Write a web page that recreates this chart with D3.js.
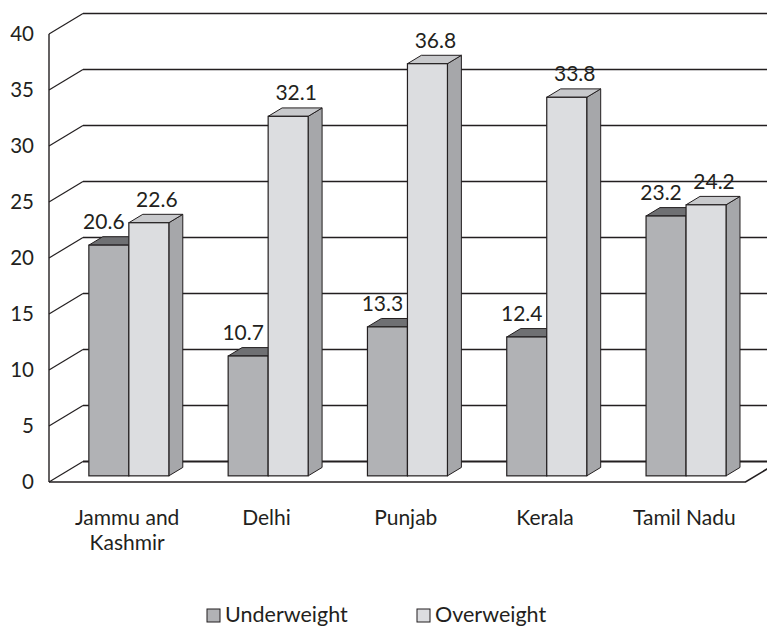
<!DOCTYPE html>
<html>
<head>
<meta charset="utf-8">
<script src="https://cdn.jsdelivr.net/npm/d3@7"></script>
<style>
  body { margin: 0; background: #fff; }
  svg text { font-family: Lato, "Open Sans", sans-serif; fill: #231f20; }
</style>
</head>
<body>
<div id="chart"></div>
<script>
// data
var categories = ["Jammu and Kashmir", "Delhi", "Punjab", "Kerala", "Tamil Nadu"];
var seriesNames = ["Underweight", "Overweight"];
var underweight = [20.6, 10.7, 13.3, 12.4, 23.2];
var overweight = [22.6, 32.1, 36.8, 33.8, 24.2];
var yTicks = [0, 5, 10, 15, 20, 25, 30, 35, 40];

var width = 767;
var height = 626;

// depth of the 3d box
var depthX = 34;
var depthY = 20.5;
var barD0 = 0.3;
var barD1 = 0.71;

var colors = {
  Underweight: { front: "#b1b2b5", top: "#6f7073", side: "#a6a7aa" },
  Overweight: { front: "#dcdde0", top: "#c8c9cc", side: "#a6a7aa" }
};

var svg = d3.select("#chart")
  .append("svg")
  .attr("width", width)
  .attr("height", height);

var yScale = d3.scaleLinear().domain([0, 40]).range([482, 34]);
var xScale = d3.scaleBand().domain(categories).range([49, 745.5]).padding(0);
var inner = d3.scaleBand().domain(seriesNames).range([-40, 40]);

function px(x, d) { return x + d * depthX; }
function py(v, d) { return yScale(v) - d * depthY; }

var rows = categories.map(function(c, i) {
  return { cat: c, Underweight: underweight[i], Overweight: overweight[i] };
});

// walls and gridlines
var grid = svg.append("g").attr("class", "grid");
var xLeft = xScale.range()[0];
var xRight = xScale.range()[1];

yTicks.forEach(function(t) {
  var w = t === 0 ? 2 : 1.4;
  grid.append("line")
    .attr("x1", px(xLeft, 1)).attr("x2", px(xRight, 1))
    .attr("y1", py(t, 1)).attr("y2", py(t, 1))
    .attr("stroke", "#231f20").attr("stroke-width", w);
  grid.append("line")
    .attr("x1", px(xLeft, 0)).attr("x2", px(xLeft, 1))
    .attr("y1", py(t, 0)).attr("y2", py(t, 1))
    .attr("stroke", "#231f20").attr("stroke-width", 1.2);
});

// front axis line
grid.append("line")
  .attr("x1", xLeft).attr("x2", xLeft)
  .attr("y1", yScale(0)).attr("y2", yScale(40))
  .attr("stroke", "#231f20").attr("stroke-width", 1.4);

// floor front edge
grid.append("path")
  .attr("d", "M" + xLeft + "," + yScale(0) +
    "L" + xRight + "," + yScale(0) +
    "L" + px(xRight, 1) + "," + py(0, 1))
  .attr("fill", "none")
  .attr("stroke", "#231f20").attr("stroke-width", 1.6);

// tick labels
svg.append("g").selectAll("text")
  .data(yTicks)
  .enter()
  .append("text")
  .attr("x", 34)
  .attr("y", function(d) { return yScale(d); })
  .attr("dy", "0.35em")
  .attr("text-anchor", "end")
  .attr("font-size", 20.5)
  .text(function(d) { return d; });

// bars
var bars = svg.append("g").attr("class", "bars");
rows.forEach(function(r) {
  var center = xScale(r.cat) + xScale.bandwidth() / 2;
  seriesNames.forEach(function(s) {
    var v = r[s];
    var x0 = center + inner(s);
    var x1 = x0 + inner.bandwidth();
    var c = colors[s];
    var g = bars.append("g");
    // side
    g.append("path")
      .attr("d", "M" + px(x1, barD0) + "," + py(0, barD0) +
        "L" + px(x1, barD1) + "," + py(0, barD1) +
        "L" + px(x1, barD1) + "," + py(v, barD1) +
        "L" + px(x1, barD0) + "," + py(v, barD0) + "Z")
      .attr("fill", c.side).attr("stroke", "#231f20").attr("stroke-width", 1);
    // top
    g.append("path")
      .attr("d", "M" + px(x0, barD0) + "," + py(v, barD0) +
        "L" + px(x0, barD1) + "," + py(v, barD1) +
        "L" + px(x1, barD1) + "," + py(v, barD1) +
        "L" + px(x1, barD0) + "," + py(v, barD0) + "Z")
      .attr("fill", c.top).attr("stroke", "#231f20").attr("stroke-width", 1);
    // front
    g.append("rect")
      .attr("x", px(x0, barD0))
      .attr("y", py(v, barD0))
      .attr("width", x1 - x0)
      .attr("height", yScale(0) - yScale(v))
      .attr("fill", c.front).attr("stroke", "#231f20").attr("stroke-width", 1.2);
    // value label
    var shift = s === "Underweight" ? -5 : 8;
    svg.append("text")
      .attr("x", px((x0 + x1) / 2, barD0) + shift)
      .attr("y", yScale(v) - 22)
      .attr("text-anchor", "middle")
      .attr("font-size", 21)
      .text(v.toFixed(1));
  });
});

// category labels
var catLabels = svg.append("g").selectAll("text")
  .data(categories)
  .enter()
  .append("text")
  .attr("x", function(d) { return xScale(d) + xScale.bandwidth() / 2 + 8.5; })
  .attr("y", 525)
  .attr("text-anchor", "middle")
  .attr("font-size", 21);

catLabels.each(function(d) {
  var el = d3.select(this);
  var words = d.split(" ");
  var lines = [];
  var line = [];
  words.forEach(function(w) {
    line.push(w);
    el.text(line.join(" "));
    if (el.node().getComputedTextLength() > 125 && line.length > 1) {
      line.pop();
      lines.push(line.join(" "));
      line = [w];
    }
  });
  lines.push(line.join(" "));
  el.text(null);
  lines.forEach(function(l, i) {
    el.append("tspan")
      .attr("x", el.attr("x"))
      .attr("dy", i === 0 ? 0 : 25)
      .text(l);
  });
});

// legend
var legend = svg.append("g").attr("class", "legend");
var legendX = [207, 417];
seriesNames.forEach(function(s, i) {
  legend.append("rect")
    .attr("x", legendX[i]).attr("y", 609)
    .attr("width", 13).attr("height", 13)
    .attr("fill", colors[s].front)
    .attr("stroke", "#231f20").attr("stroke-width", 1);
  legend.append("text")
    .attr("x", legendX[i] + 18).attr("y", 622)
    .attr("font-size", 21.5)
    .text(s);
});
</script>
</body>
</html>
